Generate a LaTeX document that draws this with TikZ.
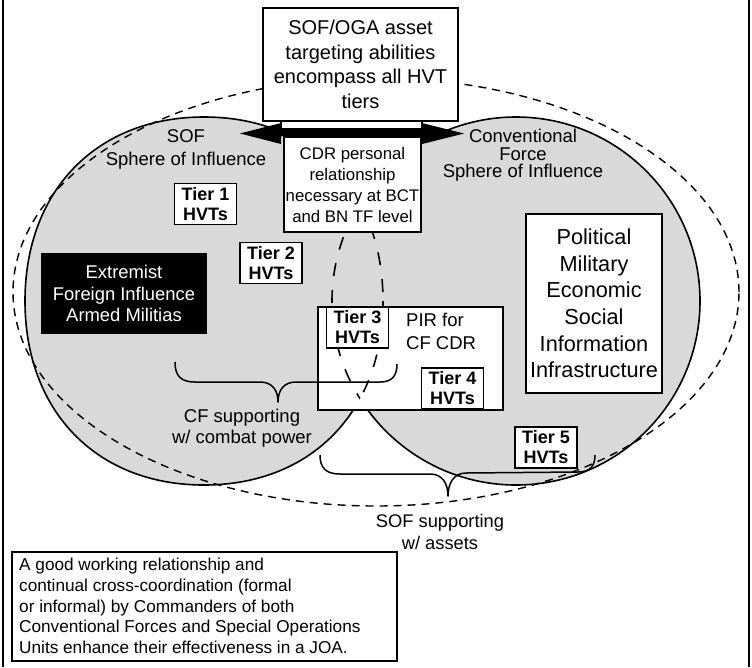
\documentclass[tikz,border=0pt]{standalone}
\usepackage{fontspec}
\setmainfont{Liberation Sans}
\definecolor{sphere}{HTML}{D9D9D9}
% SOF sphere outline (slightly squarish closed curve)
\newcommand\sofshape{(383,301) .. controls (383,411.4) and (311.4,485) .. (204,485)
  .. controls (96.6,485) and (25,411.4) .. (25,301)
  .. controls (25,190.6) and (96.6,117) .. (204,117)
  .. controls (311.4,117) and (383,190.6) .. (383,301) -- cycle}
\newcommand\cfshape{(516,301) circle[radius=184pt]}
\tikzset{
  outline/.style={line width=1.6pt},
  lensdash/.style={line width=1.6pt, dash pattern=on 13pt off 14pt},
  reachdash/.style={line width=1.4pt, dash pattern=on 8pt off 6pt},
  box/.style={draw, line width=1.8pt, fill=white, inner sep=0pt, align=center},
  tierbox/.style={box, minimum width=62pt, minimum height=41pt,
    font=\fontsize{18}{20}\selectfont\bfseries},
  lbl/.style={inner sep=0pt, align=center},
  brace/.style={line width=1.5pt, line join=round},
}
\begin{document}
\begin{tikzpicture}[x=1pt, y=-1pt]
\useasboundingbox (0,0) rectangle (752,667);
\fill[white] (0,0) rectangle (752,667);
% side rules of the frame
\draw[line width=1.8pt] (3,0) -- (3,667);
\draw[line width=1.8pt] (749,0) -- (749,667);

% the two spheres of influence
\fill[sphere] \sofshape;
\fill[sphere] \cfshape;
\begin{scope}
  \clip (0,0) rectangle (360,667);
  \draw[outline] \sofshape;
\end{scope}
\begin{scope}
  \clip (360,0) rectangle (752,667);
  \draw[outline] \cfshape;
\end{scope}

% reach of SOF/OGA targeting
\draw[reachdash] (376,292) ellipse[x radius=363pt, y radius=214pt];

% PIR area and the dashed overlap of both spheres
\node[box, minimum width=185pt, minimum height=103pt] (pir) at (410.5,358.5) {};
\begin{scope}
  \clip \sofshape;
  \draw[lensdash] \cfshape;
\end{scope}
\begin{scope}
  \clip \cfshape;
  \draw[lensdash] \sofshape;
\end{scope}
\node[lbl, anchor=west, align=left, font=\fontsize{18.5}{23}\selectfont]
  (pirtxt) at (406,331.5) {PIR for\\CF CDR};

% targeting abilities box and the two-way arrow
\node[box, minimum width=195pt, minimum height=113pt,
  font=\fontsize{20}{24.5}\selectfont] (asset) at (360.5,64.5)
  {SOF/OGA asset\\targeting abilities\\encompass all HVT\\tiers};
\fill (240,133.5) -- (281,123) -- (281,129) -- (422,129) -- (422,123)
  -- (464,133.5) -- (422,144) -- (422,136) -- (281,136) -- (281,144) -- cycle;
\draw[line width=1.4pt, fill=white] (281,121.5) rectangle (422,129);
\node[box, minimum width=137pt, minimum height=95pt,
  font=\fontsize{16.8}{21}\selectfont] (cdr) at (352.5,184.5)
  {CDR personal\\relationship\\necessary at BCT\\and BN TF level};

% sphere titles
\node[lbl, font=\fontsize{18.5}{23}\selectfont] (soft) at (186,149)
  {SOF\\Sphere of Influence};
\node[lbl, font=\fontsize{18.5}{17.5}\selectfont] (cft) at (523,155.5)
  {Conventional\\Force\\Sphere of Influence};

% tiers and other boxes
\node[tierbox] (t1) at (205.5,204) {Tier 1\\HVTs};
\node[tierbox] (t2) at (271,263) {Tier 2\\HVTs};
\node[tierbox] (t3) at (357.5,327.5) {Tier 3\\HVTs};
\node[tierbox] (t4) at (452.5,388.5) {Tier 4\\HVTs};
\node[tierbox] (t5) at (546,447.5) {Tier 5\\HVTs};
\node[box, fill=black, text=white, minimum width=164pt, minimum height=79pt,
  font=\fontsize{18.4}{21.5}\selectfont] (ext) at (124,293.5)
  {Extremist\\Foreign Influence\\Armed Militias};
\node[box, minimum width=136pt, minimum height=179pt,
  font=\fontsize{21.7}{26.6}\selectfont] (pmesii) at (594,303.5)
  {Political\\Military\\Economic\\Social\\Information\\Infrastructure};

% braces
\draw[brace] (175,362) .. controls (175,376) and (181,382) .. (195,382)
  -- (260,382) .. controls (272,382) and (278,390) .. (278,402)
  .. controls (278,390) and (284,382) .. (296,382)
  -- (380,382) .. controls (392,382) and (397,376) .. (397,364);
\node[lbl, font=\fontsize{18.5}{21}\selectfont] (cfsup) at (242,428)
  {CF supporting\\w/ combat power};
\draw[brace] (320,455) .. controls (320,468) and (326,474) .. (340,474)
  -- (430,474) .. controls (442,474) and (448,483) .. (448,496)
  .. controls (448,483) and (454,473) .. (466,473)
  -- (578,472) .. controls (590,472) and (595,466) .. (595,455);
\node[lbl, font=\fontsize{18.3}{22}\selectfont] (sofsup) at (440,531.5)
  {SOF supporting\\w/ assets};

% closing note
\node[box, minimum width=385pt, minimum height=109pt] (note) at (204.5,606.5) {};
\node[lbl, anchor=west, align=left, font=\fontsize{17.2}{20.8}\selectfont]
  (notetxt) at (19,606)
  {A good working relationship and\\continual cross-coordination (formal\\or informal) by Commanders of both\\Conventional Forces and Special Operations\\Units enhance their effectiveness in a JOA.};
\end{tikzpicture}
\end{document}
